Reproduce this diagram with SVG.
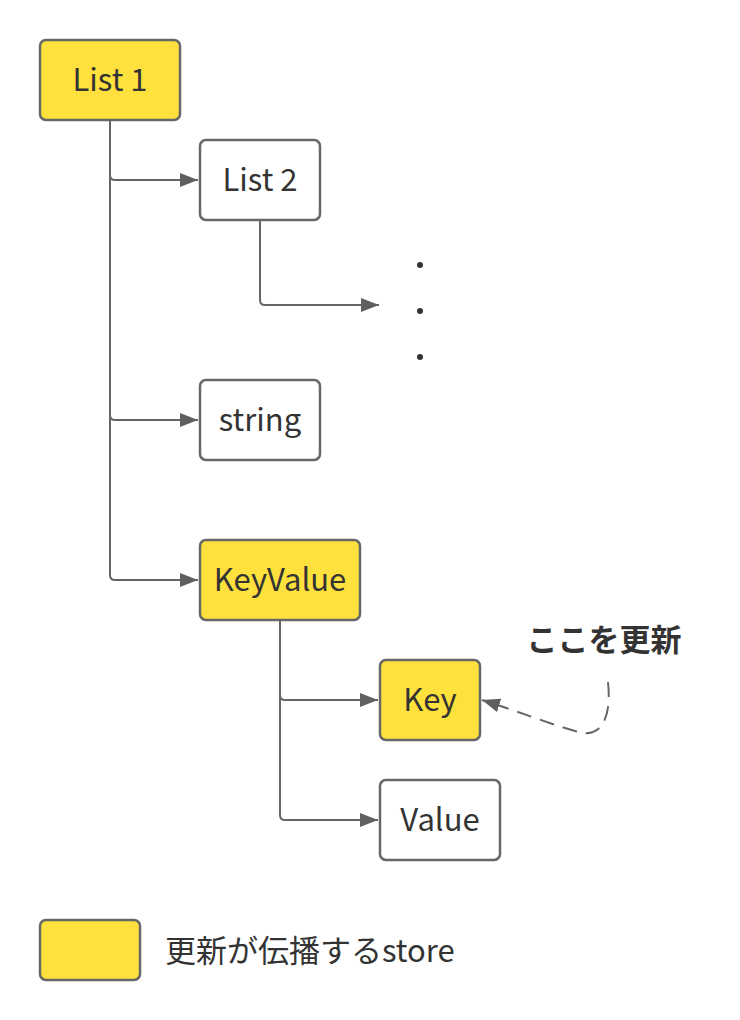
<svg xmlns="http://www.w3.org/2000/svg" width="740" height="1020" viewBox="0 0 740 1020">
<defs>
<marker id="arr" viewBox="0 0 20 14" refX="18" refY="7" markerWidth="20" markerHeight="14" markerUnits="userSpaceOnUse" orient="auto">
<path d="M0,0 L18,7 L0,14 Z" fill="#5f5f5f"/>
</marker>
</defs>
<style>
.box{stroke:#676767;stroke-width:2.5}
.hl{fill:#ffe13d}
.pl{fill:#ffffff}
.lbl{font-family:"Noto Sans CJK JP","Noto Sans",sans-serif;font-size:31px;fill:#333333;text-anchor:middle}
.con{fill:none;stroke:#666666;stroke-width:2}
</style>
<rect width="740" height="1020" fill="#ffffff"/>
<g id="connectors">
<path class="con" d="M110,121 V575 Q110,580 115,580 H198" marker-end="url(#arr)"/>
<path class="con" d="M110,175 Q110,180 115,180 H198" marker-end="url(#arr)"/>
<path class="con" d="M110,415 Q110,420 115,420 H198" marker-end="url(#arr)"/>
<path class="con" d="M260,221 V300 Q260,305 265,305 H379" marker-end="url(#arr)"/>
<path class="con" d="M280,621 V815 Q280,820 285,820 H378" marker-end="url(#arr)"/>
<path class="con" d="M280,695 Q280,700 285,700 H378" marker-end="url(#arr)"/>
<path class="con" d="M608,682 C612,720 600,740 575,731 C550,724 520,712 482,700" stroke-dasharray="15,9" marker-end="url(#arr)"/>
</g>
<g id="dots" fill="#333333">
<circle cx="420" cy="265" r="3"/>
<circle cx="420" cy="311" r="3"/>
<circle cx="420" cy="357" r="3"/>
</g>
<g id="list1"><rect class="box hl" x="40" y="40" width="140" height="80" rx="6"/><text class="lbl" x="110" y="91">List 1</text></g>
<g id="list2"><rect class="box pl" x="200" y="140" width="120" height="80" rx="6"/><text class="lbl" x="260" y="191">List 2</text></g>
<g id="string"><rect class="box pl" x="200" y="380" width="120" height="80" rx="6"/><text class="lbl" x="260" y="431">string</text></g>
<g id="keyvalue"><rect class="box hl" x="200" y="540" width="160" height="80" rx="6"/><text class="lbl" x="280" y="591">KeyValue</text></g>
<g id="key"><rect class="box hl" x="380" y="660" width="100" height="80" rx="6"/><text class="lbl" x="430" y="711">Key</text></g>
<g id="value"><rect class="box pl" x="380" y="780" width="120" height="80" rx="6"/><text class="lbl" x="440" y="831">Value</text></g>
<g id="note"><text x="604" y="651" style="font-family:'Noto Sans CJK JP',sans-serif;font-size:31px;font-weight:bold;fill:#333333;text-anchor:middle">ここを更新</text></g>
<g id="legend"><rect class="box hl" x="40" y="920" width="100" height="60" rx="6"/><text x="165" y="962" style="font-family:'Noto Sans CJK JP',sans-serif;font-size:31px;fill:#333333">更新が伝播するstore</text></g>
</svg>
